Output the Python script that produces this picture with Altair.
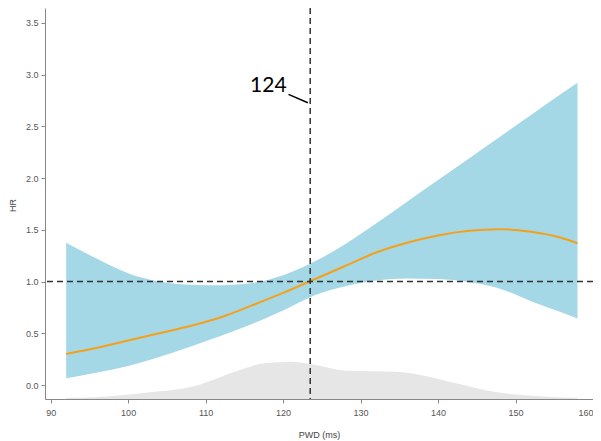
import altair as alt
import pandas as pd

# PWD grid (ms)
pwd = [92, 96, 100, 104, 108, 112, 116, 120, 124, 128, 132, 136, 140, 144, 148, 152, 156, 158]
hr = [0.30, 0.36, 0.43, 0.50, 0.57, 0.655, 0.77, 0.89, 1.02, 1.15, 1.28, 1.375, 1.445, 1.49, 1.505, 1.48, 1.42, 1.37]
hr_upper = [1.375, 1.22, 1.08, 1.00, 0.97, 0.965, 0.985, 1.06, 1.19, 1.36, 1.56, 1.77, 1.98, 2.19, 2.40, 2.61, 2.82, 2.92]
hr_lower = [0.066, 0.12, 0.185, 0.27, 0.37, 0.475, 0.59, 0.72, 0.865, 0.955, 1.01, 1.03, 1.025, 0.995, 0.93, 0.81, 0.70, 0.644]

# density (drawn in HR units above the axis baseline)
dens_x = [92, 96.3, 102, 109.1, 113.3, 117.6, 121, 123.5, 128.2, 134.6, 138.8, 142.3, 147.4, 152.5, 158]
dens_y = [-0.125, -0.116, -0.077, 0.0, 0.116, 0.21, 0.225, 0.203, 0.138, 0.128, 0.08, 0.016, -0.068, -0.106, -0.125]

x_ticks = [90, 100, 110, 120, 130, 140, 150, 160]
y_ticks = [0.0, 0.5, 1.0, 1.5, 2.0, 2.5, 3.0, 3.5]
x_domain = [89.27, 160.0]
y_domain = [-0.135, 3.643]
cut_point = 123.5
cut_label = "124"

df = pd.DataFrame({"pwd": pwd, "hr": hr, "upper": hr_upper, "lower": hr_lower})
dd = pd.DataFrame({"pwd": dens_x, "d": dens_y})

xs = alt.Scale(domain=x_domain, nice=False, zero=False)
ys = alt.Scale(domain=y_domain, nice=False, zero=False)

axis_common = dict(
    domainColor="#888888", tickColor="#888888", tickSize=4, tickWidth=1,
    labelColor="#555555", labelFontSize=9, labelFont="Liberation Sans",
    titleColor="#444444", titleFontSize=9, titleFont="Liberation Sans",
    titleFontWeight="normal", grid=False,
)

xaxis = alt.Axis(values=x_ticks, title="PWD (ms)", labelPadding=5, titleY=35,
                 titleBaseline="middle", labelFlush=True, **axis_common)
yaxis = alt.Axis(values=y_ticks, format=".1f", title="HR", labelPadding=3,
                 titleX=-33, titleY=197, titleAngle=-90, titleAlign="center",
                 titleBaseline="middle", **axis_common)

dens = alt.Chart(dd).mark_area(color="#e6e6e6", interpolate="monotone").encode(
    x=alt.X("pwd:Q", scale=xs, axis=xaxis),
    y=alt.Y("d:Q", scale=ys, axis=yaxis),
    y2=alt.datum(y_domain[0]),
)

band = alt.Chart(df).mark_area(color="#a5d8e6", interpolate="monotone").encode(
    x="pwd:Q",
    y="lower:Q",
    y2="upper:Q",
)

line = alt.Chart(df).mark_line(color="#f5a01a", strokeWidth=2, interpolate="monotone").encode(
    x="pwd:Q",
    y="hr:Q",
)

hline = alt.Chart().mark_rule(color="#333333", strokeWidth=1.5, strokeDash=[6, 4]).encode(
    y=alt.datum(1.0)
)
vline = alt.Chart().mark_rule(color="#333333", strokeWidth=1.5, strokeDash=[6, 4]).encode(
    x=alt.datum(cut_point)
)

label = alt.Chart().mark_text(font="Lato", fontSize=21, color="#000000",
                              align="center", baseline="middle").encode(
    x=alt.datum(118.1), y=alt.datum(2.894), text=alt.value(cut_label)
)
leader = alt.Chart().mark_rule(color="#000000", strokeWidth=1.5).encode(
    x=alt.datum(120.7), x2=alt.datum(123.2),
    y=alt.datum(2.809), y2=alt.datum(2.728),
)

chart = alt.layer(dens, band, line, hline, vline, leader, label).properties(
    width=548, height=391,
    autosize=alt.AutoSizeParams(type="none"),
    padding={"left": 37, "top": 0, "right": 0, "bottom": 42},
).configure_view(stroke=None)

chart.save("out.html", embed_options={"renderer": "svg", "actions": False})
